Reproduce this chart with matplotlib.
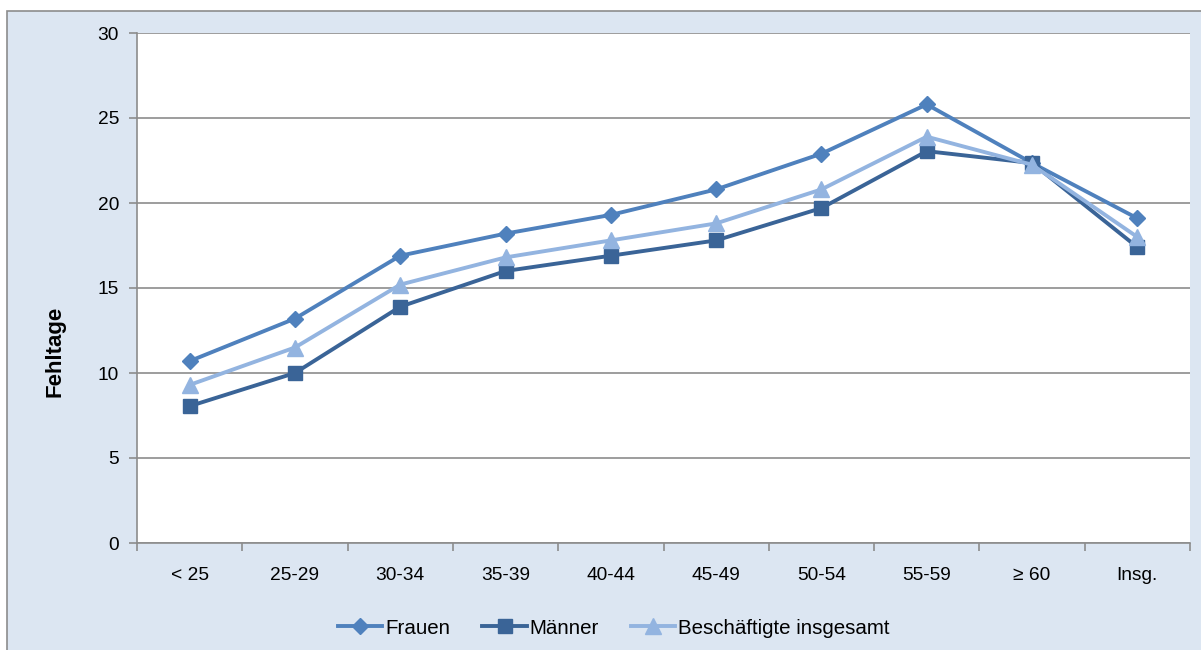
import matplotlib.pyplot as plt
from matplotlib.patches import Rectangle

plt.rcParams['font.family'] = ['Liberation Sans', 'DejaVu Sans']

# Altersgruppen und Fehltage je Gruppe
categories = ["< 25", "25-29", "30-34", "35-39", "40-44", "45-49", "50-54", "55-59", "≥ 60", "Insg."]
frauen = [10.7, 13.2, 16.9, 18.2, 19.3, 20.8, 22.9, 25.8, 22.35, 19.1]
maenner = [8.05, 10.0, 13.9, 16.0, 16.9, 17.8, 19.7, 23.05, 22.35, 17.4]
insgesamt = [9.3, 11.5, 15.2, 16.8, 17.8, 18.8, 20.8, 23.9, 22.25, 18.0]

fig = plt.figure(figsize=(12.01, 6.5), dpi=100)
fig.patch.set_facecolor("white")

# hellblauer Diagrammhintergrund mit grauem Rahmen
bg = Rectangle((7 / 1201, -0.02), 1.02, 1 - 11 / 650 + 0.02, transform=fig.transFigure,
               facecolor="#dce6f2", edgecolor="#8c8c8c", linewidth=1.2, zorder=-10)
fig.patches.append(bg)

ax = fig.add_axes([137 / 1201, 1 - 543 / 650, (1190 - 137) / 1201, (543 - 33) / 650])
ax.set_facecolor("white")

x = list(range(len(categories)))
ax.plot(x, frauen, color="#4f81bd", linewidth=2.8, marker="D", markersize=8.5, label="Frauen", zorder=3)
ax.plot(x, maenner, color="#3a6497", linewidth=2.8, marker="s", markersize=10, label="Männer", zorder=3)
ax.plot(x, insgesamt, color="#93b4e0", linewidth=2.8, marker="^", markersize=11, label="Beschäftigte insgesamt", zorder=3)

ax.set_xlim(-0.5, len(categories) - 0.5)
ax.set_ylim(0, 30)
ax.set_yticks(range(0, 31, 5))
ax.yaxis.grid(True, color="#8c8c8c", linewidth=1.2)
ax.set_axisbelow(True)

ax.set_xticks(x)
ax.set_xticklabels(categories)
ax.set_xticks([i - 0.5 for i in range(len(categories) + 1)], minor=True)
ax.tick_params(axis="x", which="major", length=0, pad=17, labelsize=13.8)
ax.tick_params(axis="x", which="minor", length=6, color="#8c8c8c", width=1.2)
ax.tick_params(axis="y", length=6, color="#8c8c8c", width=1.2, labelsize=13.8, pad=7)

for side in ["top", "right"]:
    ax.spines[side].set_visible(False)
for side in ["left", "bottom"]:
    ax.spines[side].set_color("#8c8c8c")
    ax.spines[side].set_linewidth(1.2)

fig.text(55 / 1201, 1 - 351 / 650, "Fehltage", rotation=90, ha="center", va="center",
         fontsize=16, fontweight="bold")

fig.legend(loc="center", bbox_to_anchor=(614 / 1201, 1 - 628 / 650), ncol=3, frameon=False,
           fontsize=14.8, handlelength=2.15, handletextpad=0.15, columnspacing=1.55)

fig.savefig("out.png", dpi=100)
